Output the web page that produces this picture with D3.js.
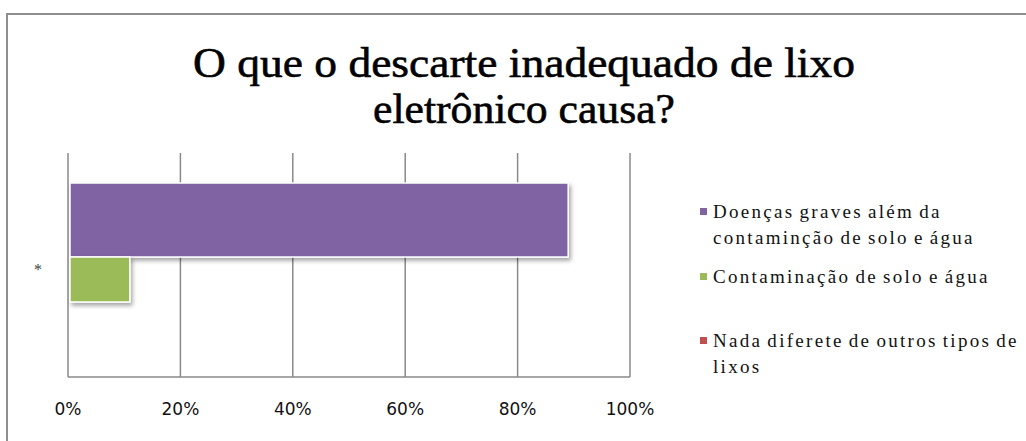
<!DOCTYPE html>
<html>
<head>
<meta charset="utf-8">
<script src="https://d3js.org/d3.v7.min.js"></script>
<style>
  body { margin: 0; background: #fff; }
  svg { display: block; }
</style>
</head>
<body>
<svg id="chart" width="1026" height="441"></svg>
<script>
// data
const titleLines = ["O que o descarte inadequado de lixo", "eletrônico causa?"];
const category = ["*"];
const seriesNames = [
  ["Doenças graves além da", "contaminção de solo e água"],
  ["Contaminação de solo e água"],
  ["Nada diferete de outros tipos de", "lixos"]
];
const seriesValues = [0.89, 0.11, 0];
const seriesColors = ["#8064a2", "#9bbb59", "#c0504d"];
const tickValues = [0, 0.2, 0.4, 0.6, 0.8, 1];

const svg = d3.select("#chart");

// outer frame (right/bottom run off the picture)
svg.append("path")
  .attr("d", "M7,441 V14 H1026")
  .attr("fill", "none")
  .attr("stroke", "#8e8e8e")
  .attr("stroke-width", 2);

// title - tall condensed serif
const titleWidths = [662, 302];
svg.append("g").selectAll("text").data(titleLines)
  .join("text")
  .attr("x", 524)
  .attr("y", (d, i) => 77 + i * 46)
  .attr("text-anchor", "middle")
  .attr("textLength", (d, i) => titleWidths[i])
  .attr("lengthAdjust", "spacingAndGlyphs")
  .style("font-family", "'Liberation Serif', 'DejaVu Serif', serif")
  .style("font-size", "43px")
  .style("fill", "#000")
  .style("stroke", "#000")
  .style("stroke-width", "0.6px")
  .text(d => d);

const plot = { left: 68, right: 630, top: 153, bottom: 377 };

const x = d3.scaleLinear().domain([0, 1]).range([plot.left, plot.right]);
const y = d3.scaleBand().domain(category).range([plot.top, plot.bottom]);

// gridlines
svg.append("g").selectAll("line").data(tickValues)
  .join("line")
  .attr("x1", d => x(d)).attr("x2", d => x(d))
  .attr("y1", plot.top).attr("y2", plot.bottom)
  .attr("stroke", "#8a8a8a")
  .attr("stroke-width", 1.5);

svg.append("line")
  .attr("x1", plot.left).attr("x2", plot.right)
  .attr("y1", plot.bottom).attr("y2", plot.bottom)
  .attr("stroke", "#8a8a8a")
  .attr("stroke-width", 1.5);

// tick labels
svg.append("g").selectAll("text").data(tickValues)
  .join("text")
  .attr("x", d => x(d))
  .attr("y", 415)
  .attr("text-anchor", "middle")
  .style("font-family", "'DejaVu Sans', sans-serif")
  .style("font-size", "17px")
  .style("fill", "#111")
  .text(d => d3.format(".0%")(d));

// category label
svg.append("text")
  .attr("x", 38)
  .attr("y", y(category[0]) + y.bandwidth() / 2 + 10)
  .attr("text-anchor", "middle")
  .style("font-family", "'Liberation Serif', serif")
  .style("font-size", "16px")
  .style("fill", "#444")
  .text(category[0]);

// bars: purple on top, green below it (heights as in the picture)
const barTops = [183, 257, 302];
const barHeights = [74, 45, 45];

const defs = svg.append("defs");
const shadow = defs.append("filter").attr("id", "shadow")
  .attr("x", "-10%").attr("y", "-10%").attr("width", "130%").attr("height", "140%");
shadow.append("feDropShadow")
  .attr("dx", 2).attr("dy", 3).attr("stdDeviation", 2)
  .attr("flood-color", "#000").attr("flood-opacity", 0.35);

svg.append("g").selectAll("rect").data(seriesValues)
  .join("rect")
  .attr("x", x(0) + 2)
  .attr("y", (d, i) => barTops[i])
  .attr("width", d => Math.max(0, x(d) - x(0) - 2))
  .attr("height", (d, i) => barHeights[i])
  .attr("fill", (d, i) => seriesColors[i])
  .attr("stroke", "#fff")
  .attr("stroke-width", 1.5)
  .attr("filter", "url(#shadow)")
  .style("display", d => d > 0 ? null : "none");

// legend
const legendY = [218, 283, 347];
const legend = svg.append("g").selectAll("g").data(seriesNames)
  .join("g")
  .attr("transform", (d, i) => `translate(700,${legendY[i]})`);

legend.append("rect")
  .attr("x", 0).attr("y", -10)
  .attr("width", 7).attr("height", 7)
  .attr("fill", (d, i) => seriesColors[i]);

legend.selectAll("text").data(d => d)
  .join("text")
  .attr("x", 13)
  .attr("y", (d, i) => i * 26)
  .style("font-family", "'Liberation Serif', serif")
  .style("font-size", "19px")
  .style("letter-spacing", "2.3px")
  .style("word-spacing", "-2px")
  .style("fill", "#111")
  .text(d => d);
</script>
</body>
</html>
